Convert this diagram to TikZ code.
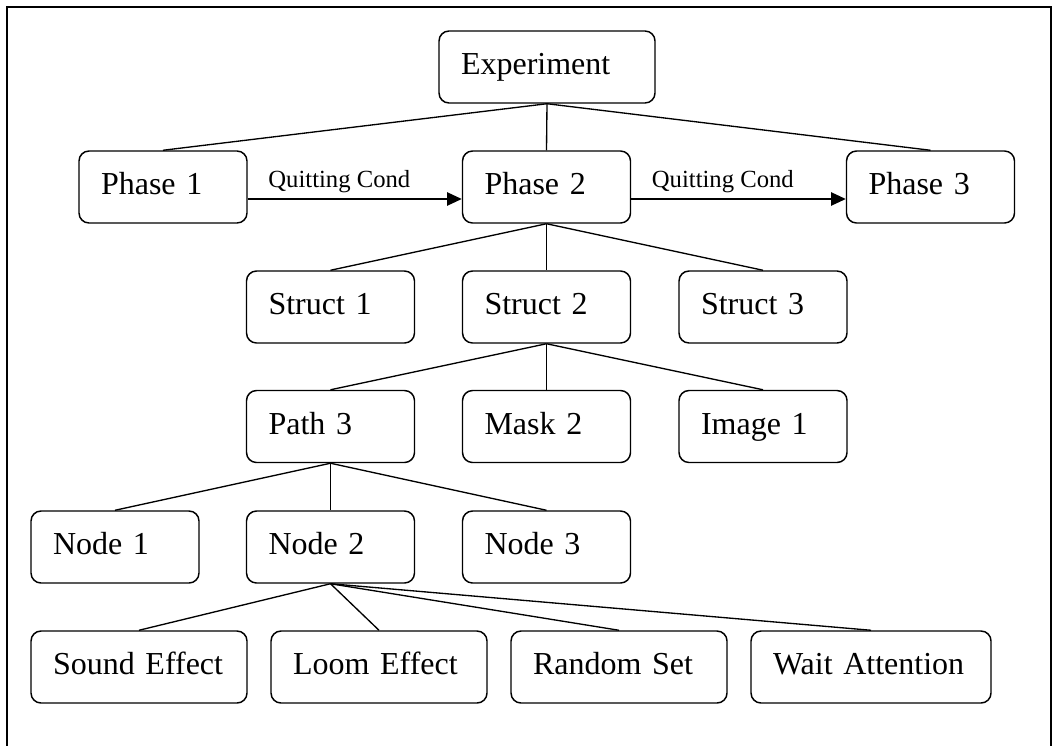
\documentclass[tikz,border=0pt]{standalone}
\usepackage{fontspec}
\setmainfont{Liberation Serif}
\usetikzlibrary{arrows.meta}

\tikzset{
  box/.style={draw, rounded corners=7.5pt, line width=1.1pt, inner xsep=16.5pt, inner ysep=0pt,
    minimum height=54pt, text width=93pt, align=left,
    font=\fontsize{24}{29}\selectfont, execute at begin node=\strut},
  wide box/.style={box, text width=129pt},
  wider box/.style={box, text width=147pt},
  link/.style={line width=1pt},
  quit/.style={line width=1pt, -{Triangle[length=11pt, width=10pt]}},
  cond/.style={font=\fontsize{18.5}{22}\selectfont, anchor=base west, inner sep=0pt, xshift=15pt, yshift=9pt}
}

\begin{document}
\begin{tikzpicture}[x=0.75pt, y=-0.75pt]
		\useasboundingbox (0,0) rectangle (1053,746);
		% frame
		\draw [line width=1.5pt] (7,746) -- (7,7) -- (1051,7) -- (1051,746);

		% top levels
		\node [wide box] (exp) at (547,67) {Experiment};
		\node [box] (ph1) at (163,187) {Phase 1};
		\node [box] (ph2) at (546.5,187) {Phase 2};
		\node [box] (ph3) at (930.5,187) {Phase 3};

		\node [box] (st1) at (330.5,307) {Struct 1};
		\node [box] (st2) at (546.5,307) {Struct 2};
		\node [box] (st3) at (763,307) {Struct 3};

		\node [box] (pa3) at (330.5,426.5) {Path 3};
		\node [box] (mk2) at (546.5,426.5) {Mask 2};
		\node [box] (im1) at (763,426.5) {Image 1};

		\node [box] (nd1) at (115,547) {Node 1};
		\node [box] (nd2) at (330.5,547) {Node 2};
		\node [box] (nd3) at (546.5,547) {Node 3};

		% leaves
		\node [wide box] (snd) at (139,667) {Sound Effect};
		\node [wide box] (loom) at (379,667) {Loom Effect};
		\node [wide box] (rnd) at (619,667) {Random Set};
		\node [wider box] (wait) at (871,667) {Wait Attention};

		% tree links
		\foreach \c in {ph1,ph2,ph3} \draw [link] (exp.south) -- (\c.north);
		\foreach \c in {st1,st2,st3} \draw [link] (ph2.south) -- (\c.north);
		\foreach \c in {pa3,mk2,im1} \draw [link] (st2.south) -- (\c.north);
		\foreach \c in {nd1,nd2,nd3} \draw [link] (pa3.south) -- (\c.north);
		\foreach \c in {snd,loom,rnd,wait} \draw [link] (nd2.south) -- (\c.north);

		% quitting conditions
		\draw [quit] ([yshift=-9pt]ph1.east) -- node [cond, pos=0] {Quitting Cond} ([yshift=-9pt]ph2.west);
		\draw [quit] ([yshift=-9pt]ph2.east) -- node [cond, pos=0] {Quitting Cond} ([yshift=-9pt]ph3.west);
\end{tikzpicture}
\end{document}
